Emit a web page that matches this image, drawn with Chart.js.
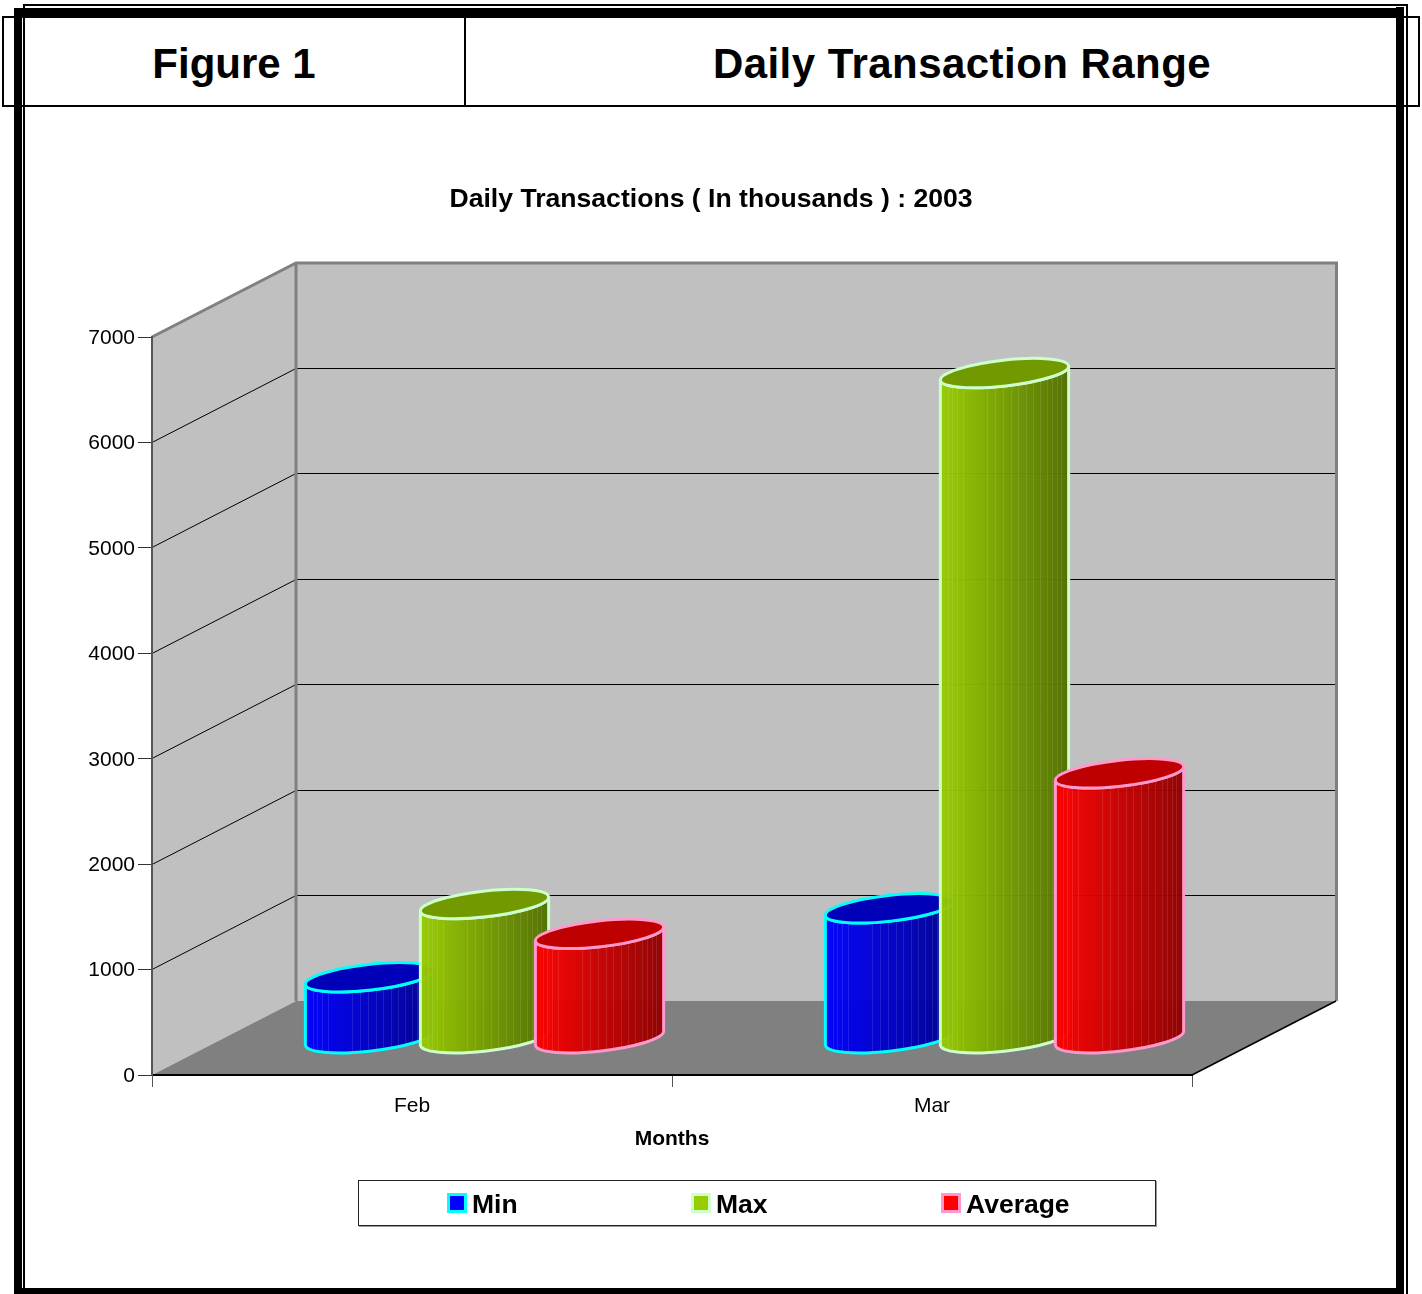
<!DOCTYPE html>
<html>
<head>
<meta charset="utf-8">
<title>Daily Transaction Range</title>
<style>
html,body{margin:0;padding:0;background:#fff;}
#page{position:relative;width:1422px;height:1294px;overflow:hidden;background:#fff;font-family:"Liberation Sans",Arial,sans-serif;color:#000;}
.l{position:absolute;background:#000;}
.head{position:absolute;top:18px;height:87px;line-height:92px;font-size:42px;font-weight:bold;text-align:center;white-space:nowrap;}
canvas{position:absolute;left:0;top:0;}
#legend{position:absolute;left:358px;top:1180px;width:796px;height:44px;border:1px solid #222;box-shadow:1px 1px 0 0 #999;background:#fff;}
.item{position:absolute;top:0;height:46px;line-height:47px;font-size:26.5px;font-weight:bold;white-space:nowrap;}
.sw{position:absolute;left:-25px;top:12px;width:14px;height:14px;border:3px solid;}
</style>
</head>
<body>
<div id="page">
  <div class="l" style="left:2px;top:16px;width:1418px;height:2px"></div>
  <div class="l" style="left:2px;top:105px;width:1418px;height:2px"></div>
  <div class="l" style="left:2px;top:16px;width:2px;height:91px"></div>
  <div class="l" style="left:1418px;top:16px;width:2px;height:91px"></div>
  <div class="l" style="left:464px;top:16px;width:2px;height:91px"></div>
  <div class="l" style="left:14px;top:8px;width:8px;height:1286px"></div>
  <div class="l" style="left:23px;top:4px;width:2px;height:1290px"></div>
  <div class="l" style="left:23px;top:4px;width:1385px;height:2px"></div>
  <div class="l" style="left:14px;top:8px;width:1390px;height:9px"></div>
  <div class="l" style="left:1396px;top:7px;width:8px;height:1287px"></div>
  <div class="l" style="left:1406px;top:4px;width:2px;height:1290px"></div>
  <div class="l" style="left:14px;top:1288px;width:1390px;height:6px"></div>
  <div class="head" style="left:4px;width:460px">Figure 1</div>
  <div class="head" style="left:520px;width:884px;letter-spacing:0.45px">Daily Transaction Range</div>
  <canvas id="c" width="1422" height="1294"></canvas>
  <div id="legend"></div>
</div>
<script src="https://cdn.jsdelivr.net/npm/chart.js@4"></script>
<script>
const categories = ["Feb", "Mar"];
const seriesNames = ["Min", "Max", "Average"];
const minValues = [579, 1233];
const maxValues = [1274, 6310];
const averageValues = [991, 2513];
const yTicks = [0, 1000, 2000, 3000, 4000, 5000, 6000, 7000];

const fillColors = ["#0000ff", "#99cc00", "#ff0000"];
const shadeColors = ["#000090", "#527000", "#900000"];
const capColors = ["#0000b8", "#739900", "#bf0000"];
const edgeColors = ["#00ffff", "#ccffcc", "#ff99cc"];
const seriesValues = [minValues, maxValues, averageValues];

const DEPTH_X = 144, DEPTH_Y = 74;
const FONT = '"Liberation Sans", Arial, sans-serif';
const facetFractions = [.056,.092,.128,.174,.367,.426,.487,.549,.608,.669,.726,.777,.828,.872,.910,.944];

function line(ctx, pts, color, width) {
  ctx.beginPath();
  pts.forEach((p, i) => i ? ctx.lineTo(p[0], p[1]) : ctx.moveTo(p[0], p[1]));
  ctx.strokeStyle = color;
  ctx.lineWidth = width;
  ctx.stroke();
}
function poly(ctx, pts, fill) {
  ctx.beginPath();
  pts.forEach((p, i) => i ? ctx.lineTo(p[0], p[1]) : ctx.moveTo(p[0], p[1]));
  ctx.closePath();
  ctx.fillStyle = fill;
  ctx.fill();
}

const room3d = {
  id: "room3d",
  afterLayout(chart) {
    const t = chart.titleBlock;
    t.left = 0; t.right = chart.width; t.width = chart.width;
  },
  beforeDraw(chart) {
    const ctx = chart.ctx, a = chart.chartArea, ys = chart.scales.y;
    const L = a.left, R = a.right, T = a.top, B = a.bottom;
    ctx.save();
    poly(ctx, [[L + DEPTH_X, T - DEPTH_Y], [R + DEPTH_X, T - DEPTH_Y], [R + DEPTH_X, B - DEPTH_Y], [L + DEPTH_X, B - DEPTH_Y]], "#c0c0c0");
    poly(ctx, [[L, T], [L + DEPTH_X, T - DEPTH_Y], [L + DEPTH_X, B - DEPTH_Y], [L, B]], "#c0c0c0");
    poly(ctx, [[L, B], [L + DEPTH_X, B - DEPTH_Y], [R + DEPTH_X, B - DEPTH_Y], [R, B]], "#808080");
    yTicks.slice(1, -1).forEach(v => {
      const y = Math.floor(ys.getPixelForValue(v)) + 0.5;
      line(ctx, [[L, y], [L + DEPTH_X, y - DEPTH_Y], [R + DEPTH_X, y - DEPTH_Y]], "#000", 1);
    });
    line(ctx, [[L, T], [L + DEPTH_X, T - DEPTH_Y], [R + DEPTH_X + 0.5, T - DEPTH_Y], [R + DEPTH_X + 0.5, B - DEPTH_Y]], "#808080", 3);
    line(ctx, [[L + DEPTH_X, T - DEPTH_Y], [L + DEPTH_X, B - DEPTH_Y]], "#808080", 3);
    line(ctx, [[R, B], [R + DEPTH_X, B - DEPTH_Y]], "#000", 1.5);
    ctx.restore();
  },
  beforeDatasetsDraw(chart) {
    drawCylinders(chart);
    return false;
  }
};

function drawCylinders(chart) {
  const ctx = chart.ctx;
  const rot = -6.4 * Math.PI / 180;
  chart.data.datasets.forEach((ds, di) => {
    chart.getDatasetMeta(di).data.forEach(bar => {
      const cx = bar.x + DEPTH_X / 2 + 0.5;
      const yTop = bar.y - DEPTH_Y / 2 + 0.3;
      const yBot = bar.base - DEPTH_Y / 2 + 0.7;
      const a = bar.width / 2, b = a * 0.2;
      const t0 = Math.atan(-(b / a) * Math.tan(rot));
      const ext = Math.sqrt(a * a * Math.cos(rot) ** 2 + b * b * Math.sin(rot) ** 2);
      const left = cx - ext, right = cx + ext;
      const body = () => {
        ctx.beginPath();
        ctx.ellipse(cx, yBot, a, b, rot, t0, t0 + Math.PI);
        ctx.ellipse(cx, yTop, a, b, rot, t0 + Math.PI, t0, true);
        ctx.closePath();
      };
      ctx.save();
      const g = ctx.createLinearGradient(left, 0, right, 0);
      g.addColorStop(0, fillColors[di]);
      g.addColorStop(1, shadeColors[di]);
      ctx.globalAlpha = 0.97;
      body();
      ctx.fillStyle = g;
      ctx.fill();
      ctx.globalAlpha = 1;
      ctx.save();
      body();
      ctx.clip();
      ctx.strokeStyle = "rgba(255,255,255,0.10)";
      ctx.lineWidth = 1;
      facetFractions.forEach(f => {
        const x = Math.round(left + f * (right - left)) + 0.5;
        ctx.beginPath();
        ctx.moveTo(x, yTop - 20);
        ctx.lineTo(x, yBot + 20);
        ctx.stroke();
      });
      ctx.restore();
      ctx.lineWidth = 3;
      ctx.strokeStyle = edgeColors[di];
      body();
      ctx.stroke();
      ctx.beginPath();
      ctx.ellipse(cx, yTop, a, b, rot, 0, Math.PI * 2);
      ctx.fillStyle = capColors[di];
      ctx.fill();
      ctx.stroke();
      ctx.restore();
    });
  });
}

new Chart(document.getElementById("c"), {
  type: "bar",
  data: {
    labels: categories,
    datasets: seriesNames.map((name, i) => ({
      label: name,
      data: seriesValues[i],
      backgroundColor: fillColors[i],
      borderColor: edgeColors[i],
      categoryPercentage: 0.6635,
      barPercentage: 1.122
    }))
  },
  plugins: [room3d],
  options: {
    responsive: false,
    animation: false,
    devicePixelRatio: 1,
    layout: { padding: { left: 0, right: 230, top: 0, bottom: 142 } },
    plugins: {
      legend: { display: false },
      tooltip: { enabled: false },
      title: {
        display: true,
        text: "Daily Transactions ( In thousands ) : 2003",
        color: "#000",
        font: { family: FONT, size: 26.6, weight: "bold", lineHeight: 1.2 },
        padding: { top: 184, bottom: 121.1 }
      }
    },
    scales: {
      x: {
        offset: true,
        afterFit(s) { s.height = 77; },
        grid: { display: true, drawOnChartArea: false, offset: true, drawTicks: true, tickLength: 12, color: "#555", lineWidth: 1 },
        border: { color: "#000", width: 2 },
        ticks: { color: "#000", font: { family: FONT, size: 21 }, padding: 7, maxRotation: 0 },
        title: {
          display: true, text: "Months", color: "#000",
          font: { family: FONT, size: 21, weight: "bold", lineHeight: 1.2 },
          padding: { top: 0, bottom: 0 }
        }
      },
      y: {
        min: 0, max: 7000,
        afterFit(s) { s.width = 152; },
        afterBuildTicks(s) { s.ticks = yTicks.map(v => ({ value: v })); },
        grid: { display: true, drawOnChartArea: false, drawTicks: true, tickLength: 14, color: "#333", lineWidth: 1 },
        border: { color: "#555", width: 2 },
        ticks: { color: "#000", font: { family: FONT, size: 21 }, padding: 3, labelOffset: 1, callback: v => String(v) }
      }
    }
  }
});

const legendEl = document.getElementById("legend");
const legendX = [113, 357, 607];
seriesNames.forEach((name, i) => {
  const item = document.createElement("div");
  item.className = "item";
  item.style.left = legendX[i] + "px";
  const sw = document.createElement("span");
  sw.className = "sw";
  sw.style.background = fillColors[i];
  sw.style.borderColor = edgeColors[i];
  item.appendChild(sw);
  item.appendChild(document.createTextNode(name));
  legendEl.appendChild(item);
});
</script>
</body>
</html>
